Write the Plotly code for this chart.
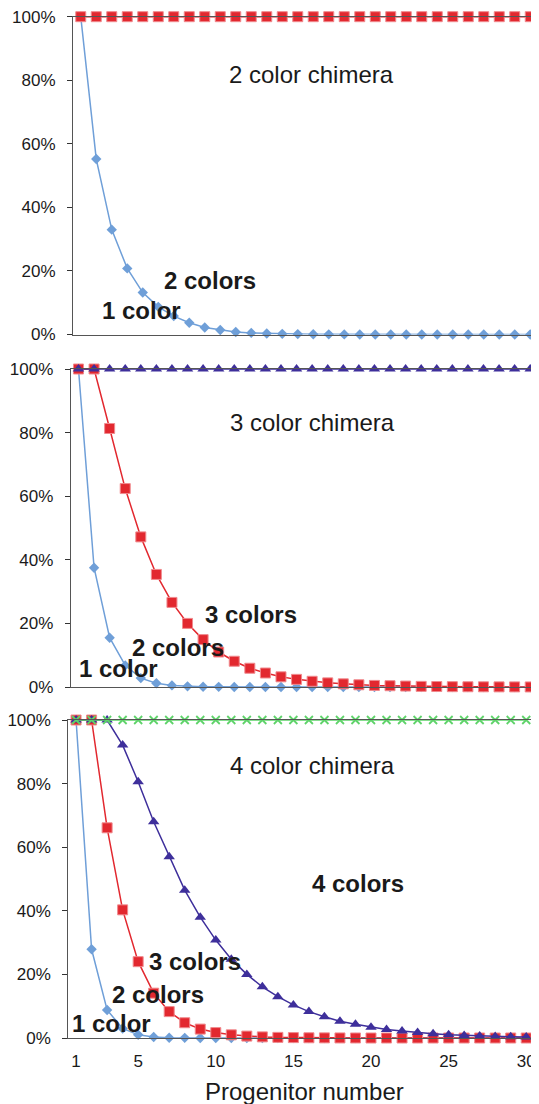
import plotly.graph_objects as go

n = list(range(1, 31))

# 2 color chimera
p2_one = [1.0, 0.552, 0.330, 0.208, 0.132, 0.087, 0.058, 0.037, 0.022, 0.014, 0.008, 0.005,
          0.003, 0.002, 0.0013, 0.0008, 0.0005, 0.0003, 0.0002, 0.0001, 0.0001, 0, 0, 0, 0, 0, 0, 0, 0, 0]
p2_two = [1.0] * 30

# 3 color chimera
p3_one = [1.0, 0.375, 0.155, 0.068, 0.028, 0.012, 0.005, 0.002, 0.001, 0.0004, 0.0002, 0.0001,
          0, 0, 0, 0, 0, 0, 0, 0, 0, 0, 0, 0, 0, 0, 0, 0, 0, 0]
p3_two = [1.0, 1.0, 0.813, 0.624, 0.472, 0.354, 0.266, 0.200, 0.149, 0.110, 0.081, 0.059,
          0.044, 0.032, 0.024, 0.018, 0.013, 0.010, 0.007, 0.005, 0.004, 0.003, 0.002, 0.0015,
          0.001, 0.0008, 0.0006, 0.0004, 0.0003, 0.0002]
p3_three = [1.0] * 30

# 4 color chimera
p4_one = [1.0, 0.279, 0.088, 0.030, 0.010, 0.003, 0.001, 0.0004, 0.0001, 0, 0, 0, 0, 0, 0,
          0, 0, 0, 0, 0, 0, 0, 0, 0, 0, 0, 0, 0, 0, 0]
p4_two = [1.0, 1.0, 0.661, 0.403, 0.240, 0.141, 0.083, 0.048, 0.028, 0.017, 0.010, 0.006,
          0.0035, 0.002, 0.0012, 0.0007, 0.0004, 0.0002, 0.0001, 0, 0, 0, 0, 0, 0, 0, 0, 0, 0, 0]
p4_three = [1.0, 1.0, 1.0, 0.921, 0.806, 0.680, 0.570, 0.465, 0.380, 0.308, 0.248, 0.200,
            0.161, 0.130, 0.104, 0.083, 0.067, 0.053, 0.043, 0.034, 0.027, 0.022, 0.017,
            0.013, 0.010, 0.008, 0.006, 0.005, 0.004, 0.003]
p4_four = [1.0] * 30

x_ticks = [1, 5, 10, 15, 20, 25, 30]
y_ticks = [0, 0.2, 0.4, 0.6, 0.8, 1.0]

# the page puts the figure 8px in from the top-left corner
OFF = 8
W, H = 539, 1104
FONT = "Liberation Sans, Arial, sans-serif"
TXT = "#1a1a1a"

BLUE = "#6f9fd8"
RED = "#e2282f"
RED_EDGE = "#f08a8e"
PURPLE = "#3e2f9b"
GREEN = "#5fd36a"

fig = go.Figure()


def line(x, y, color, symbol, size, ax, edge=None, ewidth=0):
    fig.add_trace(go.Scatter(
        x=x, y=y, mode="lines+markers", xaxis=ax[0], yaxis=ax[1],
        line=dict(color=color, width=1.5),
        marker=dict(symbol=symbol, size=size, color=color,
                    line=dict(color=edge or color, width=ewidth)),
        cliponaxis=False, showlegend=False, hoverinfo="skip"))


# panel 1
line(n, p2_one, BLUE, "diamond", 8, ("x", "y"))
line(n, p2_two, RED, "square", 10, ("x", "y"), RED_EDGE, 1)
# panel 2
line(n, p3_one, BLUE, "diamond", 8, ("x2", "y2"))
line(n, p3_two, RED, "square", 10, ("x2", "y2"), RED_EDGE, 1)
line(n, p3_three, PURPLE, "triangle-up", 10, ("x2", "y2"))
# panel 3
line(n, p4_one, BLUE, "diamond", 8, ("x3", "y3"))
line(n, p4_two, RED, "square", 10, ("x3", "y3"), RED_EDGE, 1)
line(n, p4_three, PURPLE, "triangle-up", 10, ("x3", "y3"))
line(n, p4_four, GREEN, "x-thin", 8, ("x3", "y3"), GREEN, 1.8)


def yd(top, bottom):
    return [1 - (bottom - OFF) / H, 1 - (top - OFF) / H]


def xd(left, right):
    return [(left - OFF) / W, (right - OFF) / W]


panels = [
    (xd(73, 538), yd(16.7, 334.5)),
    (xd(70.7, 538), yd(369, 687)),
    (xd(68.3, 534), yd(720, 1038)),
]

axis_common = dict(showgrid=False, zeroline=False, showline=True, linecolor="#555555",
                   linewidth=1, mirror=True, automargin=False, ticklabeloverflow="allow")

layout = dict(
    template="none",
    width=W, height=H, margin=dict(l=0, r=0, t=0, b=0, pad=0),
    paper_bgcolor="white", plot_bgcolor="white",
    font=dict(family=FONT, color=TXT, size=17),
)
for i, (xdom, ydom) in enumerate(panels):
    sfx = "" if i == 0 else str(i + 1)
    layout["xaxis" + sfx] = dict(
        domain=xdom, range=[0.5, 30.5], anchor="y" + sfx,
        tickvals=x_ticks, showticklabels=(i == 2), ticks="",
        ticklabelstandoff=8,
        tickfont=dict(size=17, color=TXT), **axis_common)
    layout["yaxis" + sfx] = dict(
        domain=ydom, range=[0, 1], anchor="x" + sfx,
        tickvals=y_ticks, tickformat=".0%", ticks="outside", ticklen=5,
        ticklabelstandoff=8,
        tickcolor="#333333", tickfont=dict(size=17, color=TXT), **axis_common)
fig.update_layout(**layout)


def ann(text, cx, cy, size, bold=False):
    fig.add_annotation(
        text=f"<b>{text}</b>" if bold else text,
        x=(cx - OFF) / W, y=1 - (cy - OFF) / H,
        xref="paper", yref="paper", xanchor="center", yanchor="middle",
        showarrow=False, font=dict(size=size, color=TXT, family=FONT))


ann("2 color chimera", 311, 75, 24)
ann("2 colors", 210, 280, 24, True)
ann("1 color", 141, 310, 24, True)

ann("3 color chimera", 312, 422, 24)
ann("3 colors", 251, 614, 24, True)
ann("2 colors", 178, 647, 24, True)
ann("1 color", 118, 668, 24, True)

ann("4 color chimera", 312, 765, 24)
ann("4 colors", 358, 883, 24, True)
ann("3 colors", 195, 961, 24, True)
ann("2 colors", 158, 994, 24, True)
ann("1 color", 111, 1023, 24, True)

ann("Progenitor number", 305, 1091, 24)

fig.write_html("out.html")
